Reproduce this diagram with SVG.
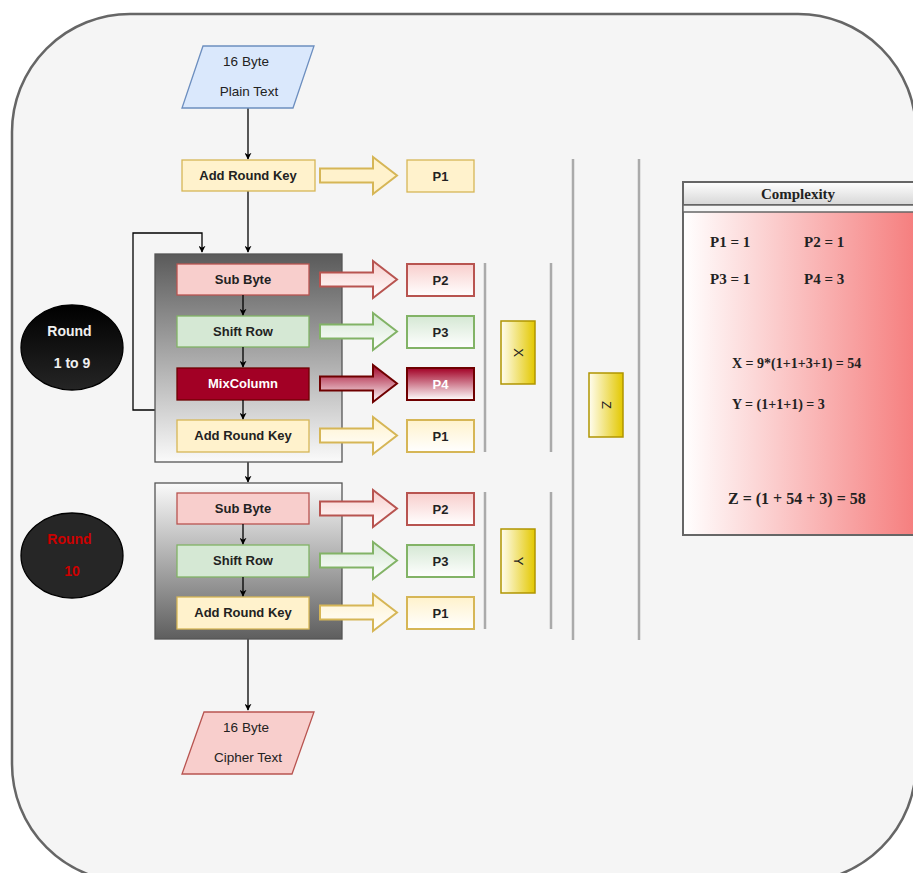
<svg xmlns="http://www.w3.org/2000/svg" width="913" height="873" viewBox="0 0 913 873">
<defs>
<linearGradient id="gC1" x1="0" y1="0" x2="0" y2="1"><stop offset="0" stop-color="#5a5a5a"/><stop offset="1" stop-color="#fafafa"/></linearGradient>
<linearGradient id="gC2" x1="0" y1="0" x2="0" y2="1"><stop offset="0" stop-color="#fafafa"/><stop offset="1" stop-color="#5e5e5e"/></linearGradient>
<linearGradient id="gRed" x1="0" y1="0" x2="0" y2="1"><stop offset="0" stop-color="#f8cecc"/><stop offset="1" stop-color="#ffffff"/></linearGradient>
<linearGradient id="gGreen" x1="0" y1="0" x2="0" y2="1"><stop offset="0" stop-color="#d5e8d4"/><stop offset="1" stop-color="#ffffff"/></linearGradient>
<linearGradient id="gYel" x1="0" y1="0" x2="0" y2="1"><stop offset="0" stop-color="#fff2cc"/><stop offset="1" stop-color="#ffffff"/></linearGradient>
<linearGradient id="gDark" x1="0" y1="0" x2="0" y2="1"><stop offset="0" stop-color="#a20025"/><stop offset="1" stop-color="#ffffff"/></linearGradient>
<linearGradient id="gGold" x1="0" y1="0" x2="1" y2="0"><stop offset="0" stop-color="#fffdf0"/><stop offset="1" stop-color="#e3c800"/></linearGradient>
<linearGradient id="gCx" x1="0" y1="0" x2="1" y2="0"><stop offset="0" stop-color="#ffffff"/><stop offset="1" stop-color="#f57a7a"/></linearGradient>
<linearGradient id="gHd" x1="0" y1="0" x2="0" y2="1"><stop offset="0" stop-color="#ffffff"/><stop offset="1" stop-color="#d6d6d6"/></linearGradient>
<linearGradient id="gE1" x1="0" y1="0" x2="0" y2="1"><stop offset="0" stop-color="#000000"/><stop offset="1" stop-color="#252525"/></linearGradient>
<marker id="ah" viewBox="0 0 10 10" refX="9" refY="5" markerWidth="7" markerHeight="7" markerUnits="userSpaceOnUse" orient="auto"><path d="M0,0 L10,5 L0,10 L3,5 Z" fill="#000"/></marker>
<style>
.s{font-family:"Liberation Sans",Arial,sans-serif;font-size:13px;font-weight:bold;fill:#222;text-anchor:middle}
.n{font-family:"Liberation Sans",Arial,sans-serif;font-size:13.5px;fill:#222;text-anchor:middle}
.t{font-family:"Liberation Serif","Times New Roman",serif;font-weight:bold;fill:#222}
.c{fill:none;stroke:#000;stroke-width:1.3}
.gl{stroke:#aaa;stroke-width:2.5;fill:none}
.red{fill:#f8cecc;stroke:#b85450;stroke-width:1.3}
.grn{fill:#d5e8d4;stroke:#82b366;stroke-width:1.3}
.yel{fill:#fff2cc;stroke:#d6b656;stroke-width:1.3}
.dk{fill:#a20025;stroke:#6f0000;stroke-width:1.3}
.gold{fill:url(#gGold);stroke:#b09500;stroke-width:1.5}
</style>
</defs>
<rect x="0" y="0" width="913" height="873" fill="#ffffff"/>
<rect id="frame" x="12" y="14" width="904" height="868" rx="118" ry="118" fill="#f5f5f5" stroke="#666" stroke-width="2.5"/>

<g id="connectors">
<path class="c" d="M248,108 L248,159" marker-end="url(#ah)"/>
<path class="c" d="M248,191 L248,252" marker-end="url(#ah)"/>
<path class="c" d="M155,410 L133,410 L133,233 L202,233 L202,252" marker-end="url(#ah)"/>
<path class="c" d="M248,462 L248,482" marker-end="url(#ah)"/>
<path class="c" d="M248,639 L248,710" marker-end="url(#ah)"/>
</g>

<g id="plain"><path d="M203,46 L314,46 L293,108 L182,108 Z" fill="#dae8fc" stroke="#6c8ebf" stroke-width="1.3"/><text class="n" x="246" y="66">16 Byte</text><text class="n" x="249" y="96">Plain Text</text></g>
<g id="ark0"><rect class="yel" x="182" y="160" width="133" height="31"/><text class="s" x="248" y="180">Add Round Key</text></g>
<g id="arr0"><path d="M320,168.5 L373,168.5 L373,157 L397,175.5 L373,194 L373,182.5 L320,182.5 Z" fill="#fff2cc" stroke="#d6b656" stroke-width="2"/></g>
<g id="p1top"><rect class="yel" x="407" y="160" width="67" height="32" stroke-width="2"/><text class="s" x="440.5" y="180.5">P1</text></g>

<g id="round19">
<rect x="155" y="254" width="187" height="208" fill="url(#gC1)" stroke="#555" stroke-width="1.3"/>
<rect class="red" x="177" y="264" width="132" height="31"/><text class="s" x="243" y="284">Sub Byte</text>
<rect class="grn" x="177" y="316" width="132" height="31"/><text class="s" x="243" y="336">Shift Row</text>
<rect class="dk" x="177" y="368" width="132" height="32"/><text class="s" x="243" y="388" style="fill:#fff">MixColumn</text>
<rect class="yel" x="177" y="420" width="132" height="32"/><text class="s" x="243" y="440">Add Round Key</text>
<path class="c" d="M243,295 L243,315" marker-end="url(#ah)"/>
<path class="c" d="M243,347 L243,367" marker-end="url(#ah)"/>
<path class="c" d="M243,400 L243,419" marker-end="url(#ah)"/>
</g>

<g id="arrows1">
<path d="M320,272.5 L373,272.5 L373,261 L397,279.5 L373,298 L373,286.5 L320,286.5 Z" fill="url(#gRed)" stroke="#b85450" stroke-width="2"/>
<path d="M320,324.5 L373,324.5 L373,313 L397,331.5 L373,350 L373,338.5 L320,338.5 Z" fill="url(#gGreen)" stroke="#82b366" stroke-width="2"/>
<path d="M320,376.5 L373,376.5 L373,365 L397,383.5 L373,402 L373,390.5 L320,390.5 Z" fill="url(#gDark)" stroke="#6f0000" stroke-width="2"/>
<path d="M320,428.5 L373,428.5 L373,417 L397,435.5 L373,454 L373,442.5 L320,442.5 Z" fill="url(#gYel)" stroke="#d6b656" stroke-width="2"/>
</g>
<g id="p-round19">
<rect x="407" y="264" width="67" height="32" fill="url(#gRed)" stroke="#b85450" stroke-width="2"/><text class="s" x="440.5" y="284.5">P2</text>
<rect x="407" y="316" width="67" height="32" fill="url(#gGreen)" stroke="#82b366" stroke-width="2"/><text class="s" x="440.5" y="336.5">P3</text>
<rect x="407" y="368" width="67" height="32" fill="url(#gDark)" stroke="#6f0000" stroke-width="2"/><text class="s" x="440.5" y="388.5" style="fill:#fff">P4</text>
<rect x="407" y="420" width="67" height="32" fill="url(#gYel)" stroke="#d6b656" stroke-width="2"/><text class="s" x="440.5" y="440.5">P1</text>
</g>

<g id="round10">
<rect x="155" y="483" width="187" height="156" fill="url(#gC2)" stroke="#555" stroke-width="1.3"/>
<rect class="red" x="177" y="493" width="132" height="31"/><text class="s" x="243" y="513">Sub Byte</text>
<rect class="grn" x="177" y="545" width="132" height="32"/><text class="s" x="243" y="565">Shift Row</text>
<rect class="yel" x="177" y="597" width="132" height="32"/><text class="s" x="243" y="617">Add Round Key</text>
<path class="c" d="M243,524 L243,544" marker-end="url(#ah)"/>
<path class="c" d="M243,577 L243,596" marker-end="url(#ah)"/>
</g>
<g id="arrows2">
<path d="M320,501.5 L373,501.5 L373,490 L397,508.5 L373,527 L373,515.5 L320,515.5 Z" fill="url(#gRed)" stroke="#b85450" stroke-width="2"/>
<path d="M320,553.5 L373,553.5 L373,542 L397,560.5 L373,579 L373,567.5 L320,567.5 Z" fill="url(#gGreen)" stroke="#82b366" stroke-width="2"/>
<path d="M320,605.5 L373,605.5 L373,594 L397,612.5 L373,631 L373,619.5 L320,619.5 Z" fill="url(#gYel)" stroke="#d6b656" stroke-width="2"/>
</g>
<g id="p-round10">
<rect x="407" y="493" width="67" height="32" fill="url(#gRed)" stroke="#b85450" stroke-width="2"/><text class="s" x="440.5" y="513.5">P2</text>
<rect x="407" y="545" width="67" height="32" fill="url(#gGreen)" stroke="#82b366" stroke-width="2"/><text class="s" x="440.5" y="565.5">P3</text>
<rect x="407" y="597" width="67" height="32" fill="url(#gYel)" stroke="#d6b656" stroke-width="2"/><text class="s" x="440.5" y="617.5">P1</text>
</g>

<g id="cipher"><path d="M204,712 L314,712 L292,774 L182,774 Z" fill="#f8cecc" stroke="#b85450" stroke-width="1.3"/><text class="n" x="246" y="732">16 Byte</text><text class="n" x="248" y="762">Cipher Text</text></g>

<g id="label19"><ellipse cx="72" cy="347.5" rx="51" ry="42.5" fill="url(#gE1)" stroke="#000" stroke-width="1.3"/><text class="s" x="69.5" y="336" style="font-size:14px;fill:#f0f0f0">Round</text><text class="s" x="72" y="368" style="font-size:14px;fill:#f0f0f0">1 to 9</text></g>
<g id="label10"><ellipse cx="72" cy="555.5" rx="51" ry="42.5" fill="#262626" stroke="#000" stroke-width="1.3"/><text class="s" x="69.5" y="544" style="font-size:14px;fill:#cc0000">Round</text><text class="s" x="72" y="576" style="font-size:14px;fill:#cc0000">10</text></g>

<g id="brackets">
<line class="gl" x1="485" y1="263" x2="485" y2="452"/>
<line class="gl" x1="551" y1="263" x2="551" y2="452"/>
<line class="gl" x1="485" y1="492" x2="485" y2="629"/>
<line class="gl" x1="551" y1="492" x2="551" y2="629"/>
<line class="gl" x1="573" y1="159" x2="573" y2="640"/>
<line class="gl" x1="639" y1="159" x2="639" y2="640"/>
</g>
<g id="X"><rect class="gold" x="501" y="321" width="34" height="63"/><text class="s" transform="translate(518,352.5) rotate(90)" y="4.5" style="font-weight:normal;font-size:13px">X</text></g>
<g id="Y"><rect class="gold" x="501" y="529" width="34" height="64"/><text class="s" transform="translate(518,561) rotate(90)" y="4.5" style="font-weight:normal;font-size:13px">Y</text></g>
<g id="Z"><rect class="gold" x="589" y="373" width="34" height="64"/><text class="s" transform="translate(606,405) rotate(90)" y="4.5" style="font-weight:normal;font-size:13px">Z</text></g>

<g id="complexity">
<rect x="683" y="182" width="240" height="353" fill="url(#gCx)" stroke="#666" stroke-width="2"/>
<rect x="683" y="182" width="240" height="23" fill="url(#gHd)" stroke="#666" stroke-width="2"/>
<rect x="683" y="205" width="240" height="7" fill="#f5f5f5" stroke="#666" stroke-width="1.5"/>
<text class="t" x="798" y="199" text-anchor="middle" style="font-size:15px">Complexity</text>
<text class="t" x="710" y="247" style="font-size:15px">P1 = 1</text>
<text class="t" x="804" y="247" style="font-size:15px">P2 = 1</text>
<text class="t" x="710" y="284" style="font-size:15px">P3 = 1</text>
<text class="t" x="804" y="284" style="font-size:15px">P4 = 3</text>
<text class="t" x="732" y="368" style="font-size:14px">X = 9*(1+1+3+1) = 54</text>
<text class="t" x="732" y="409" style="font-size:14px">Y = (1+1+1) = 3</text>
<text class="t" x="728" y="504" style="font-size:16px">Z = (1 + 54 + 3) = 58</text>
</g>
</svg>
